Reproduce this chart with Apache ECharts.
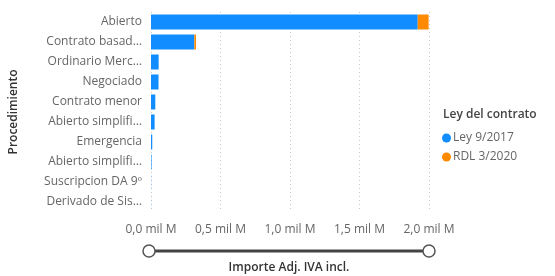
<!DOCTYPE html>
<html><head><meta charset="utf-8">
<script src="https://cdn.jsdelivr.net/npm/echarts@6/dist/echarts.min.js"></script>
<style>html,body{margin:0;padding:0;background:#fff}#c{width:555px;height:276px}</style>
</head><body><div id="c"></div>
<script>
const categories = ["Abierto", "Contrato basad…", "Ordinario Merc…", "Negociado", "Contrato menor", "Abierto simplifi…", "Emergencia", "Abierto simplifi…", "Suscripcion DA 9º", "Derivado de Sis…"];
const seriesNames = ["Ley 9/2017", "RDL 3/2020"];
const ley9_2017 = [1.919, 0.312, 0.055, 0.054, 0.031, 0.026, 0.009, 0.004, 0.0008, 0.0004];
const rdl3_2020 = [0.078, 0.012, 0, 0, 0, 0, 0, 0, 0, 0];
const xTicks = [0, 0.5, 1.0, 1.5, 2.0];

const FONT = "Open Sans";
const G = {left: 149, right: 126, top: 12, bottom: 64};
const chart = echarts.init(document.getElementById('c'), null, {renderer: 'canvas'});
const sliderY = 251, x0 = G.left, x1 = 555 - G.right;
chart.setOption({
  animation: false,
  textStyle: {fontFamily: FONT},
  grid: {left: G.left, right: G.right, top: G.top, bottom: G.bottom, containLabel: false},
  title: {text: "Ley del contrato", left: 438, top: 104,
    textStyle: {fontFamily: FONT, fontSize: 12, fontWeight: 600, color: '#444'}},
  legend: {data: seriesNames, orient: 'vertical', left: 437, top: 127, icon: 'circle',
    itemWidth: 9, itemHeight: 9, itemGap: 7,
    textStyle: {fontFamily: FONT, fontSize: 12, color: '#666', padding: [0,0,0,-3]}},
  xAxis: {type: 'value', min: xTicks[0], max: xTicks[xTicks.length-1], interval: 0.5,
    axisLine: {show: false}, axisTick: {show: false},
    splitLine: {show: true, lineStyle: {type: [1, 3], color: '#c8c8c8'}},
    axisLabel: {margin: 12, color: '#666', fontSize: 12, fontFamily: FONT,
      formatter: v => v.toFixed(1).replace('.', ',') + ' mil M'}},
  yAxis: {type: 'category', data: categories, inverse: true,
    axisLine: {show: false}, axisTick: {show: false},
    axisLabel: {margin: 9, color: '#666', fontSize: 12, fontFamily: FONT},
    name: 'Procedimiento', nameLocation: 'middle', nameGap: 131, nameRotate: 90,
    nameTextStyle: {fontFamily: FONT, fontSize: 12, fontWeight: 600, color: '#333'}},
  series: [
    {name: seriesNames[0], type: 'bar', stack: 's', data: ley9_2017, barWidth: 15, itemStyle: {color: '#118DFF'}},
    {name: seriesNames[1], type: 'bar', stack: 's', data: rdl3_2020, barWidth: 15, itemStyle: {color: '#FF8A00'}}
  ],
  graphic: [
    {type: 'line', shape: {x1: x0, y1: sliderY, x2: x1, y2: sliderY}, style: {stroke: '#444', lineWidth: 3}},
    {type: 'circle', shape: {cx: x0, cy: sliderY, r: 6}, style: {fill: '#fff', stroke: '#555', lineWidth: 1.5}},
    {type: 'circle', shape: {cx: x1, cy: sliderY, r: 6}, style: {fill: '#fff', stroke: '#555', lineWidth: 1.5}},
    {type: 'text', x: (x0 + x1) / 2, y: 268, style: {text: 'Importe Adj. IVA incl.', align: 'center', verticalAlign: 'middle',
      font: '600 12px "Open Sans"', fill: '#333'}}
  ]
});
</script></body></html>
